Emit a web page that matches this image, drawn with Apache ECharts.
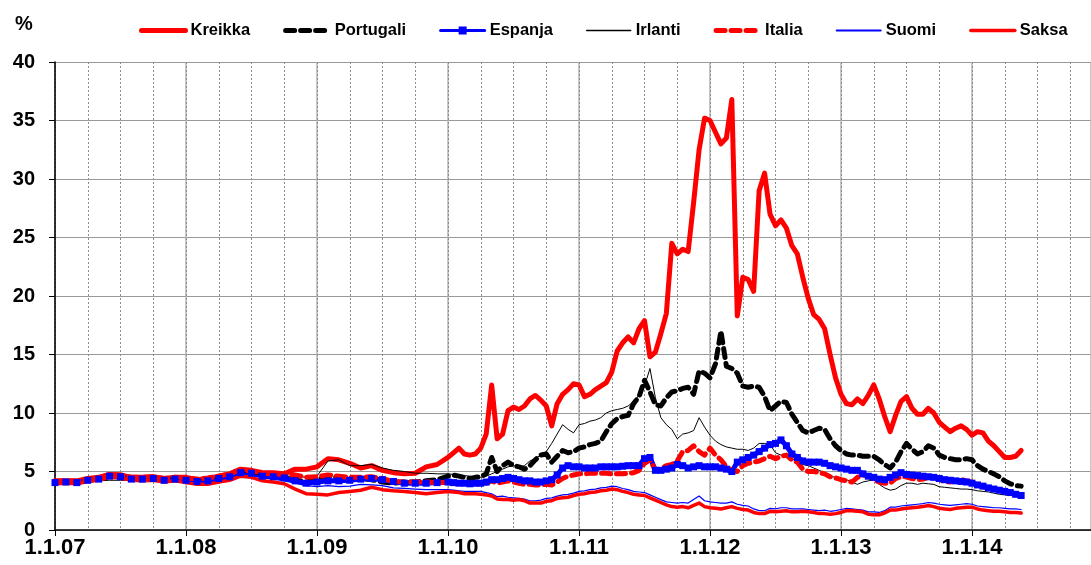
<!DOCTYPE html>
<html>
<head>
<meta charset="utf-8">
<script src="https://cdn.jsdelivr.net/npm/echarts@6/dist/echarts.min.js"></script>
<style>
  html, body { margin: 0; padding: 0; background: #fff; }
  #chart { width: 1091px; height: 565px; }
</style>
</head>
<body>
<div id="chart"></div>
<script>
// kuukausia alkaen 1.1.07 (2007-2009 kuukausittain, sen jälkeen puolen kuukauden välein)
const months = [
  0, 1, 2, 3, 4, 5, 6, 7, 8, 9, 10, 11,
  12, 13, 14, 15, 16, 17, 18, 19, 20, 21, 22, 23,
  24, 25, 26, 27, 28, 29, 30, 31, 32, 33, 34, 35,
  36, 36.5, 37, 37.5, 38, 38.5, 39, 39.5, 40, 40.5, 41, 41.5,
  42, 42.5, 43, 43.5, 44, 44.5, 45, 45.5, 46, 46.5, 47, 47.5,
  48, 48.5, 49, 49.5, 50, 50.5, 51, 51.5, 52, 52.5, 53, 53.5,
  54, 54.5, 55, 55.5, 56, 56.5, 57, 57.5, 58, 58.5, 59, 59.5,
  60, 60.5, 61, 61.5, 62, 62.5, 63, 63.5, 64, 64.5, 65, 65.5,
  66, 66.5, 67, 67.5, 68, 68.5, 69, 69.5, 70, 70.5, 71, 71.5,
  72, 72.5, 73, 73.5, 74, 74.5, 75, 75.5, 76, 76.5, 77, 77.5,
  78, 78.5, 79, 79.5, 80, 80.5, 81, 81.5, 82, 82.5, 83, 83.5,
  84, 84.5, 85, 85.5, 86, 86.5, 87, 87.5, 88, 88.5
]
const yearLabels = ['1.1.07', '1.1.08', '1.1.09', '1.1.10', '1.1.11', '1.1.12', '1.1.13', '1.1.14', '1.1.15']

const kreikka = [
  4.2, 4.2, 4.2, 4.4, 4.5, 4.75, 4.7, 4.5, 4.5, 4.55, 4.4, 4.5,
  4.5, 4.3, 4.4, 4.6, 4.8, 5.2, 5.1, 4.9, 4.9, 4.8, 5.2, 5.2,
  5.4, 6.1, 6.0, 5.7, 5.3, 5.5, 5.1, 4.9, 4.8, 4.85, 5.4, 5.6,
  6.2, 6.6, 7.0, 6.5, 6.4, 6.5, 7.0, 8.2, 12.4, 7.8, 8.2, 10.2,
  10.5, 10.3, 10.6, 11.2, 11.5, 11.1, 10.6, 8.9, 10.8, 11.6, 12.0, 12.5,
  12.4, 11.4, 11.6, 12.0, 12.3, 12.6, 13.5, 15.3, 16.0, 16.5, 16.0, 17.2,
  17.9, 14.8, 15.2, 16.8, 18.5, 24.5, 23.6, 24.0, 23.8, 28.0, 32.5, 35.2,
  35.0, 34.0, 33.0, 33.5, 36.8, 18.3, 21.6, 21.4, 20.4, 29.0, 30.5, 27.0,
  26.0, 26.5, 25.8, 24.3, 23.6, 21.6, 19.8, 18.4, 18.0, 17.2, 15.0, 13.0,
  11.6, 10.8, 10.7, 11.2, 10.8, 11.5, 12.4, 11.2, 9.7, 8.4, 9.8, 11.0,
  11.4, 10.4, 9.9, 9.9, 10.4, 10.0, 9.2, 8.8, 8.4, 8.7, 8.9, 8.6,
  8.1, 8.4, 8.3, 7.6, 7.2, 6.7, 6.2, 6.2, 6.3, 6.8
]
const portugali = [
  4.1, 4.15, 4.1, 4.3, 4.4, 4.7, 4.6, 4.45, 4.45, 4.45, 4.35, 4.45,
  4.3, 4.2, 4.3, 4.5, 4.7, 5.0, 4.9, 4.7, 4.6, 4.5, 4.3, 4.1,
  4.3, 4.6, 4.5, 4.4, 4.4, 4.3, 4.1, 4.0, 4.1, 4.1, 4.2, 4.3,
  4.6, 4.7, 4.6, 4.5, 4.4, 4.5, 4.55, 4.8, 6.2, 5.0, 5.5, 5.8,
  5.5, 5.4, 5.2, 5.5, 6.0, 6.4, 6.5, 5.8, 6.3, 6.8, 6.6, 6.7,
  7.0, 7.1, 7.3, 7.4, 7.6, 8.4, 9.1, 9.5, 9.7, 9.8, 10.8, 11.4,
  12.8, 11.8, 10.7, 10.6, 11.3, 11.8, 11.9, 12.1, 12.2, 11.6, 13.6, 13.4,
  13.0, 14.2, 17.0, 14.0, 13.8, 13.4, 12.3, 12.2, 12.3, 12.2, 11.4, 10.2,
  10.6, 11.0, 10.9, 9.9, 9.2, 8.5, 8.3, 8.5, 8.7, 8.6, 7.8, 7.2,
  6.8, 6.5, 6.4, 6.4, 6.3, 6.3, 6.3, 6.0, 5.6, 5.3, 5.8, 6.7,
  7.4, 6.9, 6.5, 6.7, 7.2, 7.0, 6.4, 6.2, 6.1, 6.0, 6.0, 6.1,
  6.0, 5.5, 5.2, 5.0, 4.8, 4.55, 4.2, 3.95, 3.8, 3.75
]
const espanja = [
  4.05, 4.1, 4.05, 4.25, 4.35, 4.6, 4.55, 4.35, 4.35, 4.4, 4.25, 4.35,
  4.25, 4.15, 4.2, 4.4, 4.55, 4.9, 4.85, 4.6, 4.55, 4.45, 4.2, 4.0,
  4.1, 4.2, 4.2, 4.25, 4.35, 4.4, 4.3, 4.15, 4.0, 4.0, 4.0, 4.05,
  4.1, 4.05, 4.0, 4.0, 3.95, 4.0, 4.0, 4.1, 4.3, 4.3, 4.4, 4.5,
  4.4, 4.3, 4.2, 4.2, 4.1, 4.1, 4.2, 4.3, 4.7, 5.3, 5.5, 5.4,
  5.4, 5.3, 5.3, 5.3, 5.4, 5.4, 5.4, 5.4, 5.45, 5.5, 5.5, 5.5,
  6.1, 6.2, 5.1, 5.1, 5.2, 5.3, 5.6, 5.5, 5.3, 5.4, 5.5, 5.4,
  5.4, 5.4, 5.3, 5.2, 5.0, 5.8, 6.0, 6.2, 6.4, 6.7, 7.0, 7.3,
  7.4, 7.7, 7.2, 6.5, 6.2, 5.9, 5.8, 5.8, 5.8, 5.7, 5.5, 5.4,
  5.3, 5.2, 5.1, 5.1, 4.8, 4.6, 4.5, 4.35, 4.3, 4.5, 4.7, 4.9,
  4.75, 4.7, 4.65, 4.6, 4.55, 4.5, 4.4, 4.3, 4.25, 4.2, 4.15, 4.1,
  4.0, 3.85, 3.75, 3.6, 3.5, 3.4, 3.3, 3.2, 3.05, 2.95
]
const irlanti = [
  4.0, 4.05, 4.05, 4.15, 4.2, 4.25, 4.25, 4.25, 4.3, 4.35, 4.35, 4.4,
  4.35, 4.3, 4.3, 4.5, 4.7, 5.0, 4.85, 4.65, 4.7, 4.6, 4.6, 4.5,
  4.6, 5.9, 6.0, 5.5, 5.5, 5.6, 5.3, 5.1, 5.0, 4.85, 4.85, 4.8,
  4.8, 4.75, 4.7, 4.65, 4.6, 4.5, 4.5, 4.6, 4.8, 5.0, 5.2, 5.4,
  5.5, 5.4, 5.5, 5.9, 6.1, 6.4, 6.7, 7.4, 8.2, 9.0, 8.6, 8.3,
  9.0, 9.1, 9.3, 9.4, 9.6, 10.0, 10.2, 10.3, 10.4, 10.6, 11.0, 11.5,
  12.3, 13.8, 11.3, 9.6, 9.0, 8.6, 7.8, 8.2, 8.3, 8.5, 9.6, 8.8,
  8.1, 7.6, 7.3, 7.1, 7.0, 6.9, 6.9, 6.8, 7.0, 7.4, 7.4, 7.3,
  6.6, 6.4, 6.3, 6.1, 5.8, 5.6, 5.5, 5.3, 5.1, 4.9, 4.6, 4.5,
  4.4, 4.3, 4.1, 3.9, 4.1, 4.2, 4.3, 3.9, 3.6, 3.4, 3.5, 3.8,
  4.0, 4.0, 3.9, 4.0, 3.95, 3.9, 3.7, 3.65, 3.6, 3.55, 3.5, 3.5,
  3.45, 3.35, 3.3, 3.25, 3.15, 3.05, 3.0, 2.95, 2.9, 2.85
]
const italia = [
  4.15, 4.2, 4.15, 4.35, 4.45, 4.75, 4.7, 4.5, 4.5, 4.55, 4.4, 4.5,
  4.45, 4.35, 4.45, 4.6, 4.8, 5.15, 5.05, 4.85, 4.8, 4.75, 4.7, 4.5,
  4.55, 4.7, 4.6, 4.5, 4.5, 4.55, 4.4, 4.15, 4.1, 4.1, 4.1, 4.05,
  4.05, 4.0, 4.05, 4.0, 3.95, 3.95, 3.95, 4.0, 4.2, 4.0, 4.1, 4.2,
  4.1, 4.0, 3.9, 3.9, 3.85, 3.85, 3.9, 3.85, 4.1, 4.4, 4.6, 4.7,
  4.8, 4.8, 4.85, 4.85, 4.85, 4.85, 4.8, 4.8, 4.8, 4.85, 4.9, 5.1,
  5.7, 6.0, 5.1, 5.2, 5.5, 5.6, 5.9, 6.7, 6.8, 7.2, 6.7, 6.4,
  7.0, 6.4, 6.0, 5.4, 5.1, 5.0, 5.5, 5.7, 5.8, 5.9, 6.1, 6.3,
  6.1, 6.3, 6.4, 6.0, 5.8, 5.2, 5.0, 5.0, 4.9, 4.8, 4.55, 4.45,
  4.3, 4.2, 4.1, 4.5, 4.7, 4.6, 4.3, 4.1, 4.0, 4.0, 4.4, 4.55,
  4.55, 4.4, 4.3, 4.35, 4.5, 4.55, 4.3, 4.15, 4.1, 4.2, 4.3, 4.2,
  4.1, 3.9, 3.7, 3.55, 3.5, 3.4, 3.3, 3.2, 3.1, 3.0
]
const suomi = [
  4.0, 4.05, 4.0, 4.2, 4.3, 4.55, 4.5, 4.3, 4.3, 4.35, 4.2, 4.3,
  4.15, 4.05, 4.1, 4.3, 4.45, 4.8, 4.7, 4.45, 4.35, 4.2, 4.0, 3.8,
  3.7, 3.8, 3.7, 3.75, 3.9, 3.85, 3.8, 3.6, 3.55, 3.5, 3.45, 3.45,
  3.45, 3.4, 3.35, 3.3, 3.3, 3.3, 3.3, 3.2, 3.1, 2.85, 2.9, 2.8,
  2.75, 2.7, 2.65, 2.5, 2.5, 2.55, 2.7, 2.75, 2.9, 3.0, 3.05, 3.15,
  3.3, 3.35, 3.45, 3.5, 3.6, 3.65, 3.75, 3.7, 3.55, 3.45, 3.3, 3.25,
  3.2, 3.0, 2.8, 2.6, 2.4, 2.35, 2.3, 2.35, 2.3, 2.6, 2.9, 2.5,
  2.4, 2.35, 2.3, 2.3, 2.4, 2.2, 2.1, 2.05, 1.8, 1.65, 1.65, 1.85,
  1.8, 1.9, 1.9, 1.8, 1.8, 1.8, 1.75, 1.7, 1.65, 1.7, 1.6, 1.65,
  1.75, 1.85, 1.8, 1.75, 1.7, 1.55, 1.55, 1.5, 1.65, 1.95, 1.95, 2.05,
  2.1, 2.15, 2.2, 2.25, 2.35, 2.3, 2.2, 2.15, 2.1, 2.15, 2.2, 2.25,
  2.2, 2.05, 2.0, 1.95, 1.9, 1.9, 1.85, 1.8, 1.8, 1.75
]
const saksa = [
  3.95, 4.0, 3.95, 4.15, 4.25, 4.5, 4.45, 4.25, 4.2, 4.25, 4.1, 4.2,
  4.05, 3.9, 3.9, 4.1, 4.25, 4.6, 4.5, 4.2, 4.1, 3.95, 3.5, 3.1,
  3.05, 3.0, 3.2, 3.3, 3.4, 3.65, 3.45, 3.35, 3.3, 3.2, 3.1, 3.2,
  3.3, 3.25, 3.2, 3.1, 3.1, 3.1, 3.05, 3.0, 2.9, 2.65, 2.6, 2.6,
  2.55, 2.6, 2.5, 2.3, 2.3, 2.3, 2.45, 2.5, 2.7, 2.75, 2.8, 2.95,
  3.05, 3.1, 3.2, 3.25, 3.35, 3.4, 3.5, 3.45, 3.3, 3.2, 3.05, 3.0,
  2.95, 2.75, 2.55, 2.35, 2.15, 2.0, 1.95, 2.0, 1.9, 2.1, 2.3, 2.0,
  1.9, 1.85, 1.8, 1.9, 2.0, 1.85, 1.75, 1.7, 1.5, 1.4, 1.4, 1.6,
  1.55, 1.6, 1.65, 1.55, 1.55, 1.6, 1.55, 1.5, 1.4, 1.4, 1.35, 1.4,
  1.5, 1.65, 1.65, 1.6, 1.55, 1.35, 1.3, 1.3, 1.45, 1.7, 1.7, 1.8,
  1.85, 1.9, 1.95, 2.0, 2.1, 2.0, 1.85, 1.8, 1.75, 1.85, 1.9, 1.95,
  1.95, 1.8, 1.7, 1.65, 1.6, 1.6, 1.55, 1.5, 1.5, 1.45
]

const font = "'Liberation Sans', Arial, sans-serif"
const pairs = (vals) => vals.map((v, i) => [months[i], v])

const chart = echarts.init(document.getElementById('chart'), null, { renderer: 'canvas' })

const lineSeries = (name, vals, lineStyle, extra) => Object.assign({
  name: name,
  type: 'line',
  xAxisIndex: 0,
  data: pairs(vals),
  symbol: 'none',
  showSymbol: false,
  silent: true,
  lineStyle: Object.assign({ cap: 'round', join: 'round' }, lineStyle)
}, extra || {})

const option = {
  animation: false,
  backgroundColor: '#fff',
  title: {
    text: '%',
    left: 10,
    top: 9,
    textStyle: { fontFamily: font, fontSize: 20, fontWeight: 'bold', color: '#000' }
  },
  legend: {
    left: 134,
    top: 17,
    itemWidth: 44,
    itemHeight: 10,
    itemGap: 33,
    // vain viiva legendaan, Espanjalle neliö
    itemStyle: { opacity: 0 },
    textStyle: { fontFamily: font, fontSize: 16.5, fontWeight: 'bold', color: '#000' },
    data: [
      { name: 'Kreikka', lineStyle: { width: 5, cap: 'round' } },
      { name: 'Portugali', lineStyle: { width: 5, type: [9, 6], cap: 'round' } },
      { name: 'Espanja', itemStyle: { opacity: 1 }, lineStyle: { width: 3 } },
      { name: 'Irlanti', lineStyle: { width: 1.5 } },
      { name: 'Italia', lineStyle: { width: 5, type: [9, 6], cap: 'round' } },
      { name: 'Suomi', lineStyle: { width: 2 } },
      { name: 'Saksa', lineStyle: { width: 3.5 } }
    ]
  },
  grid: { left: 55, right: 0, top: 62, bottom: 35 },
  xAxis: [
    {
      // vuosiviivat ja -tekstit
      type: 'value',
      min: 0,
      max: 94.9,
      interval: 12,
      axisLine: { show: true, onZero: false, lineStyle: { color: '#000', width: 1.5 } },
      axisTick: { show: true, length: 6, lineStyle: { color: '#000' } },
      axisLabel: {
        margin: 7,
        fontFamily: font,
        fontSize: 22,
        fontWeight: 'bold',
        color: '#000',
        showMaxLabel: false,
        formatter: (v) => (v % 12 === 0 ? yearLabels[v / 12] : '')
      },
      splitLine: { show: true, lineStyle: { color: '#b4b4b4', width: 1.5 } }
    },
    {
      // neljännesvuosien pisteviivat
      type: 'value',
      position: 'top',
      min: 0,
      max: 94.9,
      interval: 3,
      axisLine: { show: false },
      axisTick: { show: false },
      axisLabel: { show: false },
      splitLine: { show: true, lineStyle: { color: '#8c8c8c', width: 1, type: [2, 2] } }
    }
  ],
  yAxis: {
    type: 'value',
    min: 0,
    max: 40,
    interval: 5,
    axisLine: { show: true, lineStyle: { color: '#000', width: 1.5 } },
    axisTick: { show: true, length: 6, lineStyle: { color: '#000' } },
    axisLabel: { margin: 20, fontFamily: font, fontSize: 20, fontWeight: 'bold', color: '#000' },
    splitLine: { show: true, lineStyle: { color: '#999', width: 1.2 } }
  },
  series: [
    lineSeries('Kreikka', kreikka, { color: '#ff0000', width: 5 }, { itemStyle: { color: '#ff0000' } }),
    lineSeries('Portugali', portugali, { color: '#000', width: 5, type: [9, 6] }, { itemStyle: { color: '#000' } }),
    lineSeries('Espanja', espanja, { color: '#0000ff', width: 5 }, {
      symbol: 'rect',
      symbolSize: 7,
      showSymbol: true,
      itemStyle: { color: '#0000ff' }
    }),
    lineSeries('Irlanti', irlanti, { color: '#000', width: 1 }, { itemStyle: { color: '#000' } }),
    lineSeries('Italia', italia, { color: '#ff0000', width: 5, type: [9, 6] }, { itemStyle: { color: '#ff0000' } }),
    lineSeries('Suomi', suomi, { color: '#0000ff', width: 1.2 }, { itemStyle: { color: '#0000ff' } }),
    lineSeries('Saksa', saksa, { color: '#ff0000', width: 3.5 }, { itemStyle: { color: '#ff0000' } })
  ]
}

chart.setOption(option)
</script>
</body>
</html>
